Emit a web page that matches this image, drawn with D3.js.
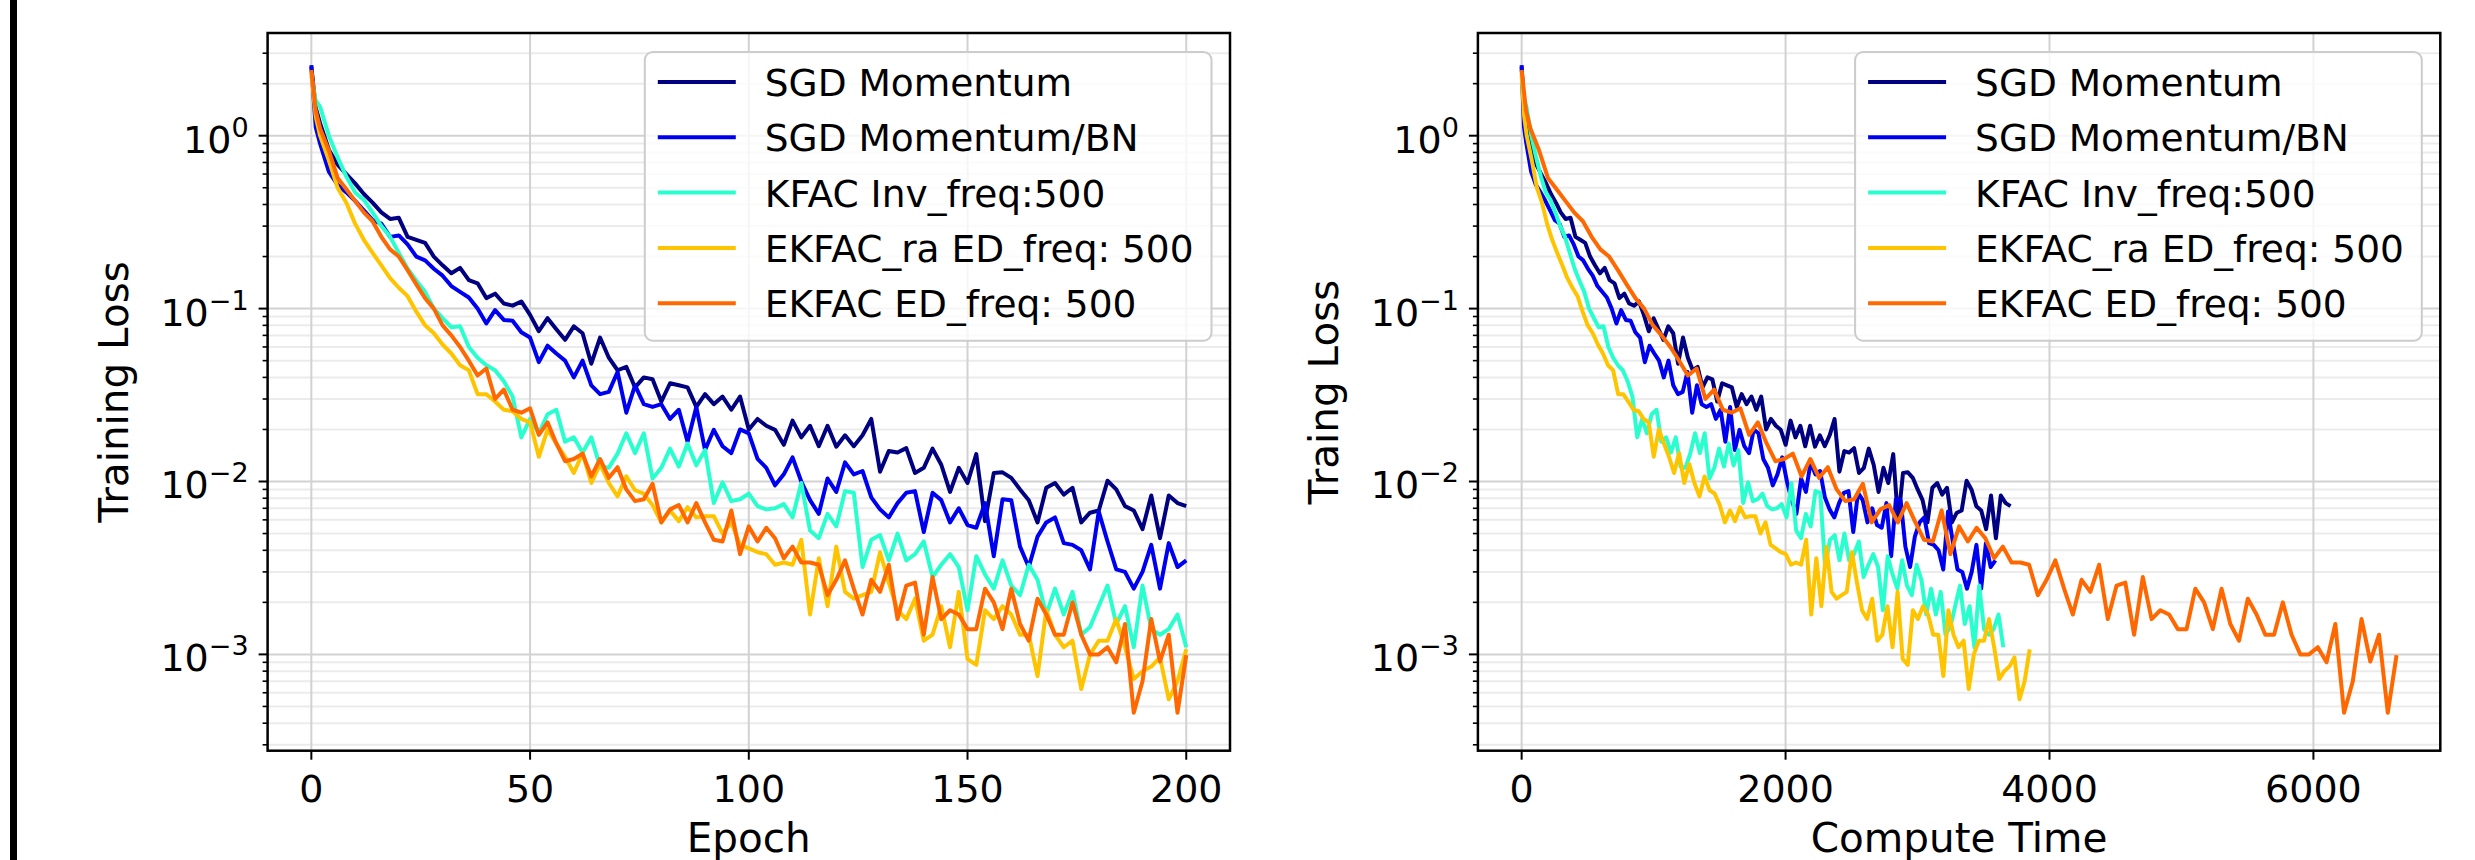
<!DOCTYPE html>
<html><head><meta charset="utf-8">
<script src="https://cdn.jsdelivr.net/npm/d3@7"></script>
<style>
body{margin:0;background:#fff}
svg{display:block}
text{font-family:"DejaVu Sans",sans-serif;fill:#000}
</style>
</head><body>
<svg id="chart" width="2475" height="860"></svg>
<script>
// ---------------- DATA ----------------
const seriesNames = ["SGD Momentum","SGD Momentum/BN","KFAC Inv_freq:500","EKFAC_ra ED_freq: 500","EKFAC ED_freq: 500"];
const seriesColors = ["#000080","#0000f1","#29ffce","#ffc400","#ff6800"];

const epochs = [0,1,2,4,6,8,10,12,14,16,
  18,20,22,24,26,28,30,32,34,36,
  38,40,42,44,46,48,50,52,54,56,
  58,60,62,64,66,68,70,72,74,76,
  78,80,82,84,86,88,90,92,94,96,
  98,100,102,104,106,108,110,112,114,116,
  118,120,122,124,126,128,130,132,134,136,
  138,140,142,144,146,148,150,152,154,156,
  158,160,162,164,166,168,170,172,174,176,
  178,180,182,184,186,188,190,192,194,196,
  198,200];

const sgdMomentum = [2.5,1.45,1.18,0.83,0.68,0.6,0.53,0.46,0.41,0.36,
  0.33,0.335,0.26,0.25,0.24,0.2,0.178,0.16,0.172,0.146,
  0.14,0.115,0.122,0.107,0.104,0.11,0.092,0.074,0.088,0.076,
  0.066,0.079,0.072,0.048,0.068,0.052,0.044,0.046,0.035,0.04,
  0.039,0.029,0.037,0.036,0.035,0.027,0.032,0.028,0.031,0.026,
  0.031,0.02,0.023,0.021,0.0199,0.0163,0.0225,0.018,0.021,0.016,
  0.021,0.0159,0.0185,0.016,0.0185,0.023,0.0114,0.015,0.0147,0.0156,
  0.0112,0.012,0.0155,0.0125,0.0087,0.012,0.0098,0.0144,0.0059,0.0112,
  0.0113,0.0105,0.009,0.0078,0.0058,0.0092,0.0098,0.0084,0.0092,0.0058,
  0.0066,0.0068,0.0101,0.009,0.0072,0.0068,0.0053,0.0083,0.0047,0.0083,
  0.0075,0.0072];

const sgdMomentumBN = [2.56,1.12,0.9,0.62,0.52,0.47,0.42,0.37,0.325,0.31,
  0.26,0.265,0.235,0.2,0.19,0.17,0.155,0.135,0.125,0.116,
  0.1,0.082,0.098,0.086,0.085,0.073,0.068,0.049,0.061,0.055,
  0.05,0.04,0.05,0.036,0.032,0.033,0.043,0.025,0.036,0.028,
  0.027,0.028,0.023,0.026,0.017,0.027,0.0152,0.0199,0.016,0.0146,
  0.02,0.019,0.0135,0.012,0.0095,0.011,0.0138,0.01,0.0078,0.0065,
  0.0104,0.0087,0.0129,0.011,0.0115,0.0081,0.0069,0.0062,0.0075,0.0086,
  0.0088,0.0051,0.0086,0.0078,0.0058,0.007,0.0056,0.0054,0.0075,0.0037,
  0.0079,0.0078,0.0042,0.0032,0.0048,0.0058,0.0062,0.0044,0.0043,0.004,
  0.0031,0.0067,0.0045,0.0031,0.003,0.0024,0.003,0.0043,0.0024,0.0044,
  0.0032,0.0035];

const kfacInv500 = [2.2,1.6,1.47,1.0,0.75,0.58,0.47,0.425,0.36,0.3,
  0.26,0.21,0.17,0.145,0.125,0.1,0.088,0.078,0.079,0.06,
  0.052,0.047,0.044,0.038,0.031,0.018,0.023,0.019,0.0245,0.026,
  0.017,0.018,0.0147,0.018,0.0122,0.012,0.0145,0.019,0.0146,0.019,
  0.0104,0.012,0.0155,0.0122,0.0166,0.0124,0.0152,0.0075,0.0099,0.0077,
  0.0079,0.0085,0.0072,0.0069,0.007,0.0074,0.0062,0.0098,0.0052,0.0047,
  0.0065,0.0055,0.0088,0.0086,0.0032,0.0046,0.0049,0.0035,0.005,0.0035,
  0.0038,0.0045,0.0028,0.0033,0.0038,0.0032,0.0018,0.0037,0.0029,0.0024,
  0.0035,0.0025,0.0022,0.0033,0.0027,0.0017,0.0024,0.0017,0.0023,0.0013,
  0.00144,0.0019,0.0025,0.0015,0.0019,0.0011,0.0025,0.0014,0.0013,0.0014,
  0.0017,0.0011];

const ekfacRaEd500 = [2.3,1.29,1.0,0.72,0.5,0.41,0.31,0.25,0.21,0.178,
  0.15,0.132,0.118,0.096,0.08,0.072,0.062,0.055,0.047,0.044,
  0.032,0.032,0.029,0.026,0.0255,0.023,0.022,0.0139,0.02,0.0166,
  0.0139,0.0112,0.0146,0.0098,0.0126,0.0098,0.0082,0.0107,0.0089,0.0085,
  0.0073,0.0058,0.0068,0.0059,0.0071,0.0062,0.0063,0.0063,0.005,0.0058,
  0.0043,0.0041,0.0039,0.0038,0.0033,0.0034,0.0033,0.0046,0.0017,0.0036,
  0.0019,0.0042,0.0023,0.0021,0.0022,0.0023,0.0039,0.0026,0.0018,0.0016,
  0.0021,0.0012,0.0013,0.0019,0.0011,0.0023,0.00094,0.00087,0.0018,0.0016,
  0.0019,0.0017,0.0013,0.0013,0.00075,0.0018,0.0013,0.0011,0.0012,0.00063,
  0.001,0.0012,0.0012,0.0016,0.0011,0.00072,0.0008,0.00085,0.00096,0.00055,
  0.0007,0.00107];

const ekfacEd500 = [2.4,1.4,1.1,0.82,0.57,0.49,0.42,0.36,0.32,0.26,
  0.22,0.2,0.167,0.138,0.115,0.1,0.08,0.07,0.06,0.05,
  0.041,0.045,0.03,0.034,0.026,0.025,0.0265,0.0186,0.022,0.0166,
  0.0131,0.0135,0.0145,0.0107,0.0135,0.0105,0.0121,0.009,0.0077,0.0079,
  0.0097,0.0058,0.0069,0.0073,0.0058,0.0075,0.0058,0.0046,0.0045,0.0068,
  0.0038,0.0055,0.0045,0.0054,0.0047,0.0036,0.0042,0.0034,0.0034,0.0033,
  0.0022,0.0027,0.0035,0.0024,0.0017,0.0027,0.0023,0.0033,0.0016,0.0025,
  0.0026,0.0013,0.0028,0.0016,0.0018,0.0017,0.0014,0.0014,0.0024,0.002,
  0.0014,0.0024,0.0015,0.0012,0.0021,0.0017,0.0013,0.0013,0.002,0.0013,
  0.001,0.001,0.0011,0.0009,0.0015,0.00046,0.0007,0.0016,0.00091,0.0013,
  0.00046,0.00099];

// total compute time of each run (200 epochs)
const computeTimeTotal = [3705, 3590, 3650, 3850, 6630];

const epochTicks = [0, 50, 100, 150, 200];
const timeTicks = [0, 2000, 4000, 6000];
const lossTickExponents = [0, -1, -2, -3];

const allSeries = [sgdMomentum, sgdMomentumBN, kfacInv500, ekfacRaEd500, ekfacEd500];

// ---------------- LAYOUT ----------------
const svg = d3.select("#chart");
svg.append("rect").attr("x",0).attr("y",0).attr("width",2475).attr("height",860).attr("fill","#fff");
svg.append("rect").attr("x",10).attr("y",0).attr("width",7).attr("height",860).attr("fill","#000");

const TOP = 33, BOTTOM = 750.7;
const lastEpoch = epochs[epochs.length - 1];
const panels = [
  {left:267.6, right:1230, xDomain:[-10,210], xTicks:epochTicks, xLabel:"Epoch", yLabel:"Training Loss",
   xOf:(si,i)=>epochs[i]},
  {left:1477.9, right:2440.3, xDomain:[-331.5,6961.5], xTicks:timeTicks, xLabel:"Compute Time", yLabel:"Traing Loss",
   xOf:(si,i)=>epochs[i]/lastEpoch*computeTimeTotal[si]}
];

const y = d3.scaleLog().domain([Math.pow(10,-3.557), Math.pow(10,0.594)]).range([BOTTOM, TOP]);
const [ymin, ymax] = y.domain();
const minorVals = [];
for (let d=-4; d<=0; d++) for (let k=2; k<=9; k++) { const v=k*Math.pow(10,d); if (v>=ymin && v<=ymax) minorVals.push(v); }

panels.forEach((p, pi) => {
  const x = d3.scaleLinear().domain(p.xDomain).range([p.left, p.right]);
  const g = svg.append("g");
  const clipId = "clip"+pi;
  svg.append("clipPath").attr("id", clipId).append("rect")
    .attr("x", p.left).attr("y", TOP).attr("width", p.right-p.left).attr("height", BOTTOM-TOP);

  // minor grid
  g.selectAll(".mg").data(minorVals).join("line")
    .attr("x1", p.left).attr("x2", p.right).attr("y1", d=>y(d)).attr("y2", d=>y(d))
    .attr("stroke", "#ebebeb").attr("stroke-width", 2);
  // major grid
  g.selectAll(".Mg").data(lossTickExponents).join("line")
    .attr("x1", p.left).attr("x2", p.right).attr("y1", d=>y(Math.pow(10,d))).attr("y2", d=>y(Math.pow(10,d)))
    .attr("stroke", "#d2d2d2").attr("stroke-width", 2);
  g.selectAll(".vg").data(p.xTicks).join("line")
    .attr("x1", d=>x(d)).attr("x2", d=>x(d)).attr("y1", TOP).attr("y2", BOTTOM)
    .attr("stroke", "#d2d2d2").attr("stroke-width", 2);

  // lines
  const lg = g.append("g").attr("clip-path", `url(#${clipId})`);
  allSeries.forEach((vals, si) => {
    const line = d3.line().x((d,i)=>x(p.xOf(si,i))).y(d=>y(d));
    lg.append("path").attr("d", line(vals)).attr("fill","none")
      .attr("stroke", seriesColors[si]).attr("stroke-width", 4)
      .attr("stroke-linejoin","round");
  });

  // ticks
  g.selectAll(".ytM").data(lossTickExponents).join("line")
    .attr("x1", p.left-9).attr("x2", p.left).attr("y1", d=>y(Math.pow(10,d))).attr("y2", d=>y(Math.pow(10,d)))
    .attr("stroke","#000").attr("stroke-width",2);
  g.selectAll(".ytm").data(minorVals).join("line")
    .attr("x1", p.left-5).attr("x2", p.left).attr("y1", d=>y(d)).attr("y2", d=>y(d))
    .attr("stroke","#000").attr("stroke-width",1.6);
  g.selectAll(".xt").data(p.xTicks).join("line")
    .attr("x1", d=>x(d)).attr("x2", d=>x(d)).attr("y1", BOTTOM).attr("y2", BOTTOM+9)
    .attr("stroke","#000").attr("stroke-width",2);

  // y tick labels
  g.selectAll(".ytl").data(lossTickExponents).join("text")
    .attr("x", p.left-19).attr("y", d=>y(Math.pow(10,d))+17)
    .attr("text-anchor","end").attr("font-size",38)
    .each(function(d){
      const t = d3.select(this);
      t.append("tspan").text("10");
      t.append("tspan").attr("dy",-16).attr("font-size",27).text(d===0 ? "0" : "\u2212"+(-d));
    });
  // x tick labels
  g.selectAll(".xtl").data(p.xTicks).join("text")
    .attr("x", d=>x(d)).attr("y", 802).attr("text-anchor","middle").attr("font-size",38)
    .text(d=>d);

  // spines
  g.append("rect").attr("x",p.left).attr("y",TOP).attr("width",p.right-p.left).attr("height",BOTTOM-TOP)
    .attr("fill","none").attr("stroke","#000").attr("stroke-width",2.5);

  // axis labels
  g.append("text").attr("x",(p.left+p.right)/2).attr("y",852).attr("text-anchor","middle")
    .attr("font-size",40.5).text(p.xLabel);
  g.append("text").attr("transform",`translate(${p.left-139.6},${(TOP+BOTTOM)/2}) rotate(-90)`)
    .attr("text-anchor","middle").attr("font-size",40.5).text(p.yLabel);

  // legend
  const lw = 566.7, lh = 288.7;
  const lx = p.right - 18.5 - lw, ly = 52;
  const leg = g.append("g");
  leg.append("rect").attr("x",lx).attr("y",ly).attr("width",lw).attr("height",lh).attr("rx",8)
    .attr("fill","rgba(255,255,255,0.8)").attr("stroke","#cccccc").attr("stroke-width",2);
  seriesNames.forEach((name, si) => {
    const cy = ly + 30 + si*55.3;
    leg.append("line").attr("x1",lx+13).attr("x2",lx+91).attr("y1",cy).attr("y2",cy)
      .attr("stroke",seriesColors[si]).attr("stroke-width",4);
    leg.append("text").attr("x",lx+120).attr("y",cy+14).attr("font-size",37.5).text(name);
  });
});
</script>
</body></html>
